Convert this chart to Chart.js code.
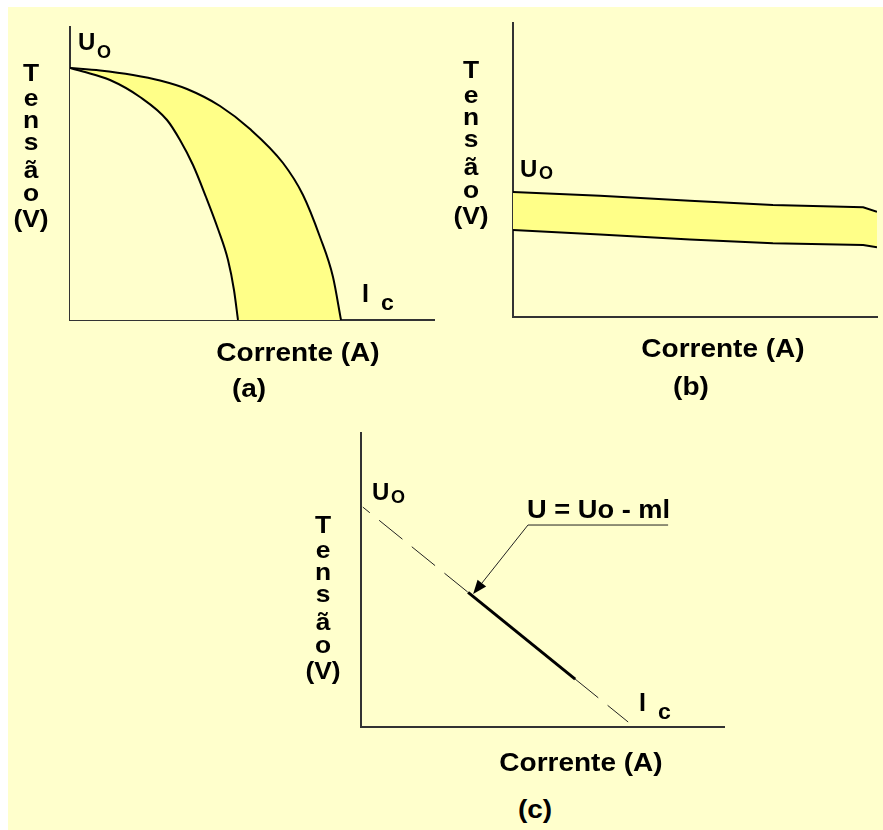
<!DOCTYPE html>
<html>
<head>
<meta charset="utf-8">
<script src="https://cdn.jsdelivr.net/npm/chart.js@4"></script>
<style>
  html, body { margin: 0; padding: 0; background: #fff; }
  body { width: 883px; height: 830px; position: relative; overflow: hidden;
         font-family: "Liberation Sans", Arial, sans-serif; }
  #sheet { position: absolute; left: 8px; top: 7px; right: 0; bottom: 0; background: #FFFFCC; }
  canvas { position: absolute; }
  .t { position: absolute; white-space: nowrap; font-weight: bold; color: #000; }
</style>
</head>
<body>
<div id="sheet"></div>
<canvas id="chartA" width="445" height="340" style="left:0;top:0"></canvas>
<canvas id="chartB" width="443" height="340" style="left:440px;top:0"></canvas>
<canvas id="chartC" width="440" height="330" style="left:290px;top:420px"></canvas>
<script>
// ---- data (current I, voltage U, both in relative units 0..100) ----

// (a) generator whose voltage collapses under load: band between two limit curves
const aOuterI = [0, 8.24, 17.31, 24.73, 32.14, 41.21, 49.45, 58.52, 64.01, 68.68, 72.25, 74.45];
const aOuterU = [86.0, 85.15, 83.62, 81.74, 78.84, 73.04, 65.19, 53.58, 42.66, 28.33, 14.68, 0];
const aInnerI = [0, 3.57, 10.99, 19.23, 26.65, 30.22, 33.79, 37.36, 40.66, 43.41, 45.05, 46.15];
const aInnerU = [86.0, 84.81, 81.91, 76.11, 68.26, 61.43, 52.90, 41.98, 31.06, 20.48, 10.24, 0];

// (b) stiff source: narrow, almost flat band
const bI      = [0, 23.9, 48.6, 71.4, 96.2, 100];
const bUpperU = [42.5, 41.2, 39.5, 38.1, 37.3, 35.8];
const bLowerU = [29.6, 28.1, 26.4, 25.1, 24.5, 23.7];

// (c) linear model U = Uo - m·I and the measured working range on it
const cLineI = [0.5, 73.6];
const cLineU = [74.8, 1.7];
const cSegI  = [29.5, 59.0];
const cSegU  = [45.8, 16.3];
// callout: arrow tip, elbow, end of the underline
const cCalloutI = [30.9, 46.0, 84.6];
const cCalloutU = [45.2, 68.7, 68.7];

// ---- text ----
const yTitleLetters = ['T', 'e', 'n', 's', 'ã', 'o', '(V)'];
const xTitle = 'Corrente (A)';
const panelNames = ['(a)', '(b)', '(c)'];
const formula = 'U = Uo - ml';

// ---- styling ----
const PAPER = '#FFFFCC';
const BAND = '#FFFF88';
const INK = '#000000';

const pts = (xs, ys) => xs.map((x, i) => ({ x, y: ys[i] }));

function axes() {
  const one = () => ({
    type: 'linear', min: 0, max: 100, z: 1,
    grid: { display: false, drawTicks: false },
    ticks: { display: false },
    border: { display: true, color: '#333333', width: 2 }
  });
  return { x: one(), y: one() };
}

function options(pad) {
  return {
    responsive: false,
    animation: false,
    events: [],
    layout: { padding: pad },
    elements: { point: { radius: 0 } },
    plugins: {
      legend: { display: false },
      tooltip: { enabled: false },
      filler: { drawTime: 'beforeDatasetsDraw' }
    },
    scales: axes()
  };
}

// (a)
new Chart(document.getElementById('chartA'), {
  type: 'line',
  data: {
    datasets: [
      { data: pts(aInnerI, aInnerU), borderColor: INK, borderWidth: 2,
        fill: 'origin', backgroundColor: PAPER, cubicInterpolationMode: 'monotone' },
      { data: pts(aOuterI, aOuterU), borderColor: INK, borderWidth: 2,
        fill: 'origin', backgroundColor: BAND, cubicInterpolationMode: 'monotone' }
    ]
  },
  options: options({ left: 70, top: 27, right: 11, bottom: 20 })
});

// (b)
new Chart(document.getElementById('chartB'), {
  type: 'line',
  data: {
    datasets: [
      { data: pts(bI, bUpperU), borderColor: INK, borderWidth: 2,
        fill: '+1', backgroundColor: BAND, tension: 0 },
      { data: pts(bI, bLowerU), borderColor: INK, borderWidth: 2,
        fill: false, tension: 0 }
    ]
  },
  options: options({ left: 73, top: 23, right: 6, bottom: 23 })
});

// (c) callout arrow pointing at the working segment
const calloutPlugin = {
  id: 'callout',
  afterDatasetsDraw(chart) {
    const { ctx, scales: { x, y } } = chart;
    const p = cCalloutI.map((v, i) => ({ x: x.getPixelForValue(v), y: y.getPixelForValue(cCalloutU[i]) }));
    const [tip, elbow, end] = p;
    ctx.save();
    ctx.strokeStyle = '#222';
    ctx.fillStyle = INK;
    ctx.lineWidth = 1;
    const ang = Math.atan2(tip.y - elbow.y, tip.x - elbow.x);
    const len = 14, half = 5.5;
    const bx = tip.x - len * Math.cos(ang), by = tip.y - len * Math.sin(ang);
    ctx.beginPath();
    ctx.moveTo(end.x, end.y);
    ctx.lineTo(elbow.x, elbow.y);
    ctx.lineTo(bx, by);
    ctx.stroke();
    ctx.beginPath();
    ctx.moveTo(tip.x, tip.y);
    ctx.lineTo(bx + half * Math.sin(ang), by - half * Math.cos(ang));
    ctx.lineTo(bx - half * Math.sin(ang), by + half * Math.cos(ang));
    ctx.closePath();
    ctx.fill();
    ctx.restore();
  }
};

new Chart(document.getElementById('chartC'), {
  type: 'line',
  data: {
    datasets: [
      { data: pts(cSegI, cSegU), borderColor: INK, borderWidth: 3, fill: false, tension: 0 },
      { data: pts(cLineI, cLineU), borderColor: '#222', borderWidth: 1, fill: false, tension: 0,
        borderDash: [30, 12], borderDashOffset: 21 }
    ]
  },
  options: options({ left: 71, top: 13, right: 6, bottom: 23 }),
  plugins: [calloutPlugin]
});

// ---- labels ----
function put(text, x, base, size, align, sx) {
  const d = document.createElement('div');
  d.className = 't';
  d.textContent = text;
  d.style.fontSize = size + 'px';
  d.style.lineHeight = size + 'px';
  d.style.top = (base - 0.8465 * size) + 'px';
  if (align === 'center') {
    d.style.left = (x - 200) + 'px';
    d.style.width = '400px';
    d.style.textAlign = 'center';
    d.style.transformOrigin = '50% 50%';
  } else {
    d.style.left = x + 'px';
    d.style.transformOrigin = '0 50%';
  }
  if (sx && sx !== 1) d.style.transform = 'scaleX(' + sx + ')';
  document.body.appendChild(d);
}

const letterDrop = [0, 25, 47, 69, 97, 120, 146];
function yTitle(cx, firstBase) {
  yTitleLetters.forEach((ch, i) => put(ch, cx, firstBase + letterDrop[i], 24, 'center', 1.1));
}
function uo(x, base, subBase) {
  put('U', x, base, 24, 'left', 1);
  put('O', x + 19, subBase, 18, 'left', 1);
}
function ic(x, base) {
  put('I', x, base, 25, 'left', 1);
  put('c', x + 19, base + 9, 22, 'left', 1.05);
}

// panel (a)
yTitle(31, 81);
uo(78, 50, 58);
ic(362, 302);
put(xTitle, 298, 361, 25, 'center', 1.12);
put(panelNames[0], 249, 397, 25, 'center', 1.12);

// panel (b)
yTitle(471, 78);
uo(520, 177, 179);
put(xTitle, 723, 357, 25, 'center', 1.12);
put(panelNames[1], 691, 395, 25, 'center', 1.12);

// panel (c)
yTitle(323, 533);
uo(372, 500, 503);
ic(639, 711);
put(formula, 527, 518, 25, 'left', 1.09);
put(xTitle, 581, 771, 25, 'center', 1.12);
put(panelNames[2], 535, 818, 25, 'center', 1.12);
</script>
</body>
</html>
